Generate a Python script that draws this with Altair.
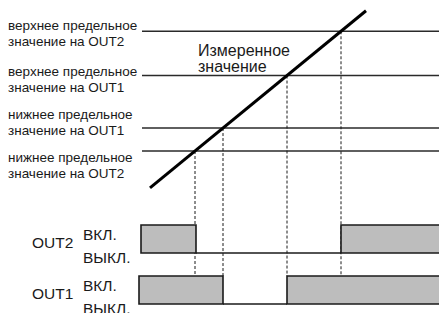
import altair as alt
import pandas as pd

# ---------------- data ----------------
# limit values (in the same units as the measured value)
threshold_key = ["OUT2_hi", "OUT1_hi", "OUT1_lo", "OUT2_lo"]
threshold_value = [341, 287, 223, 195]
threshold_text = [
    "верхнее предельное\nзначение на OUT2",
    "верхнее предельное\nзначение на OUT1",
    "нижнее предельное\nзначение на OUT1",
    "нижнее предельное\nзначение на OUT2",
]
# time at which the measured value crosses each limit
crossing_time = [341, 287, 223, 195]

# measured value (straight ramp)
meas_time = [150, 366]
meas_value = [150, 366]

# limit lines drawn from / to
limit_start = 142
time_end = 447

# output timing
signal_names = ["OUT2", "OUT1"]
out2_t0 = [141, 196, 341]
out2_t1 = [196, 341, 470]
out2_state = [1, 0, 1]
out1_t0 = [139, 223, 287]
out1_t1 = [223, 287, 470]
out1_state = [1, 0, 1]
on_text = "ВКЛ."
off_text = "ВЫКЛ."
measured_text = "Измеренное\nзначение"

# ---------------- layout ----------------
W, H = 439, 313
FONT = "Liberation Sans"
INK = "#1a1a1a"
FILL = "#bdbdbd"

# value scale: value 195 sits at 151 px, 0.82 px per unit
PX_PER_V = 0.82
REF_V, REF_PX = 195, 151
top_dom = [REF_V - (H - REF_PX) / PX_PER_V, REF_V + REF_PX / PX_PER_V]

ROW_H = 28
row_off_px = {"OUT2": 253, "OUT1": 304}


def row_scale(name):
    off = row_off_px[name]
    return alt.Scale(domain=[-(H - off) / ROW_H, off / ROW_H], nice=False, zero=False)


xs = alt.Scale(domain=[0, W], nice=False, zero=False)
ys_top = alt.Scale(domain=top_dom, nice=False, zero=False)

thr = pd.DataFrame({
    "key": threshold_key,
    "value": threshold_value,
    "label": threshold_text,
    "t": crossing_time,
    "start": [limit_start] * 4,
    "end": [time_end] * 4,
})
meas = pd.DataFrame({"t": meas_time, "v": meas_value})
one = pd.DataFrame({"text": [measured_text]})

layers = []

# limit lines
layers.append(
    alt.Chart(thr).mark_rule(color="#2a2a2a", strokeWidth=1.6).encode(
        x=alt.X("start:Q", scale=xs, axis=None),
        x2="end:Q",
        y=alt.Y("value:Q", scale=ys_top, axis=None),
    )
)

# dashed drop lines down to OUT1 "on" level
y_drop_end = row_off_px["OUT1"] - ROW_H
layers.append(
    alt.Chart(thr).mark_rule(color=INK, strokeWidth=1, strokeDash=[3, 2]).encode(
        x=alt.X("t:Q", scale=xs, axis=None),
        y=alt.Y("value:Q", scale=ys_top, axis=None),
        y2=alt.value(y_drop_end),
    )
)

# measured value
layers.append(
    alt.Chart(meas).mark_line(color="black", strokeWidth=3).encode(
        x=alt.X("t:Q", scale=xs, axis=None),
        y=alt.Y("v:Q", scale=ys_top, axis=None),
    )
)

# limit labels
label_dy = {"OUT2_hi": -1, "OUT1_hi": 0, "OUT1_lo": -9.5, "OUT2_lo": 10.5}
for k in threshold_key:
    layers.append(
        alt.Chart(thr).transform_filter(alt.datum.key == k).mark_text(
            align="left", baseline="alphabetic", dy=label_dy[k], fontSize=13.5,
            lineBreak="\n", lineHeight=16, font=FONT, color=INK,
        ).encode(
            x=alt.value(8),
            y=alt.Y("value:Q", scale=ys_top, axis=None),
            text="label:N",
        )
    )

layers.append(
    alt.Chart(one).mark_text(
        align="left", baseline="alphabetic", fontSize=16, lineBreak="\n",
        lineHeight=16, font=FONT, color=INK,
    ).encode(x=alt.value(198), y=alt.value(56), text="text:N")
)

# timing rows
sig_data = {
    "OUT2": pd.DataFrame({"t0": out2_t0, "t1": out2_t1, "state": out2_state}),
    "OUT1": pd.DataFrame({"t0": out1_t0, "t1": out1_t1, "state": out1_state}),
}
for name in signal_names:
    df = sig_data[name]
    ys = row_scale(name)
    base = alt.Chart(df)
    layers.append(
        base.transform_filter(alt.datum.state == 1).transform_calculate(lo="0").mark_rect(
            fill=FILL, stroke=INK, strokeWidth=1.6
        ).encode(
            x=alt.X("t0:Q", scale=xs, axis=None),
            x2="t1:Q",
            y=alt.Y("lo:Q", scale=ys, axis=None),
            y2="state:Q",
        )
    )
    layers.append(
        base.transform_filter(alt.datum.state == 0).mark_rule(color=INK, strokeWidth=1.6).encode(
            x=alt.X("t0:Q", scale=xs, axis=None),
            x2="t1:Q",
            y=alt.Y("state:Q", scale=ys, axis=None),
        )
    )
    lab = pd.DataFrame({"name": [name], "on": [1], "off": [0], "on_t": [on_text], "off_t": [off_text]})
    layers.append(
        alt.Chart(lab).mark_text(align="left", baseline="alphabetic", dy=-5, fontSize=15.5,
                                 font=FONT, color=INK).encode(
            x=alt.value(32), y=alt.Y("off:Q", scale=ys, axis=None), text="name:N")
    )
    layers.append(
        alt.Chart(lab).mark_text(align="left", baseline="alphabetic", dy=15, fontSize=15.5,
                                 font=FONT, color=INK).encode(
            x=alt.value(83), y=alt.Y("on:Q", scale=ys, axis=None), text="on_t:N")
    )
    layers.append(
        alt.Chart(lab).mark_text(align="left", baseline="alphabetic", dy=10, fontSize=15.5,
                                 font=FONT, color=INK).encode(
            x=alt.value(83), y=alt.Y("off:Q", scale=ys, axis=None), text="off_t:N")
    )

chart = alt.layer(*layers).resolve_scale(y="independent").properties(
    width=W, height=H,
    padding={"left": -8, "top": -8, "right": 0, "bottom": 0},
    autosize=alt.AutoSizeParams(type="none"),
).configure_view(stroke=None)

chart.save("out.html", embed_options={"renderer": "svg", "actions": False})
